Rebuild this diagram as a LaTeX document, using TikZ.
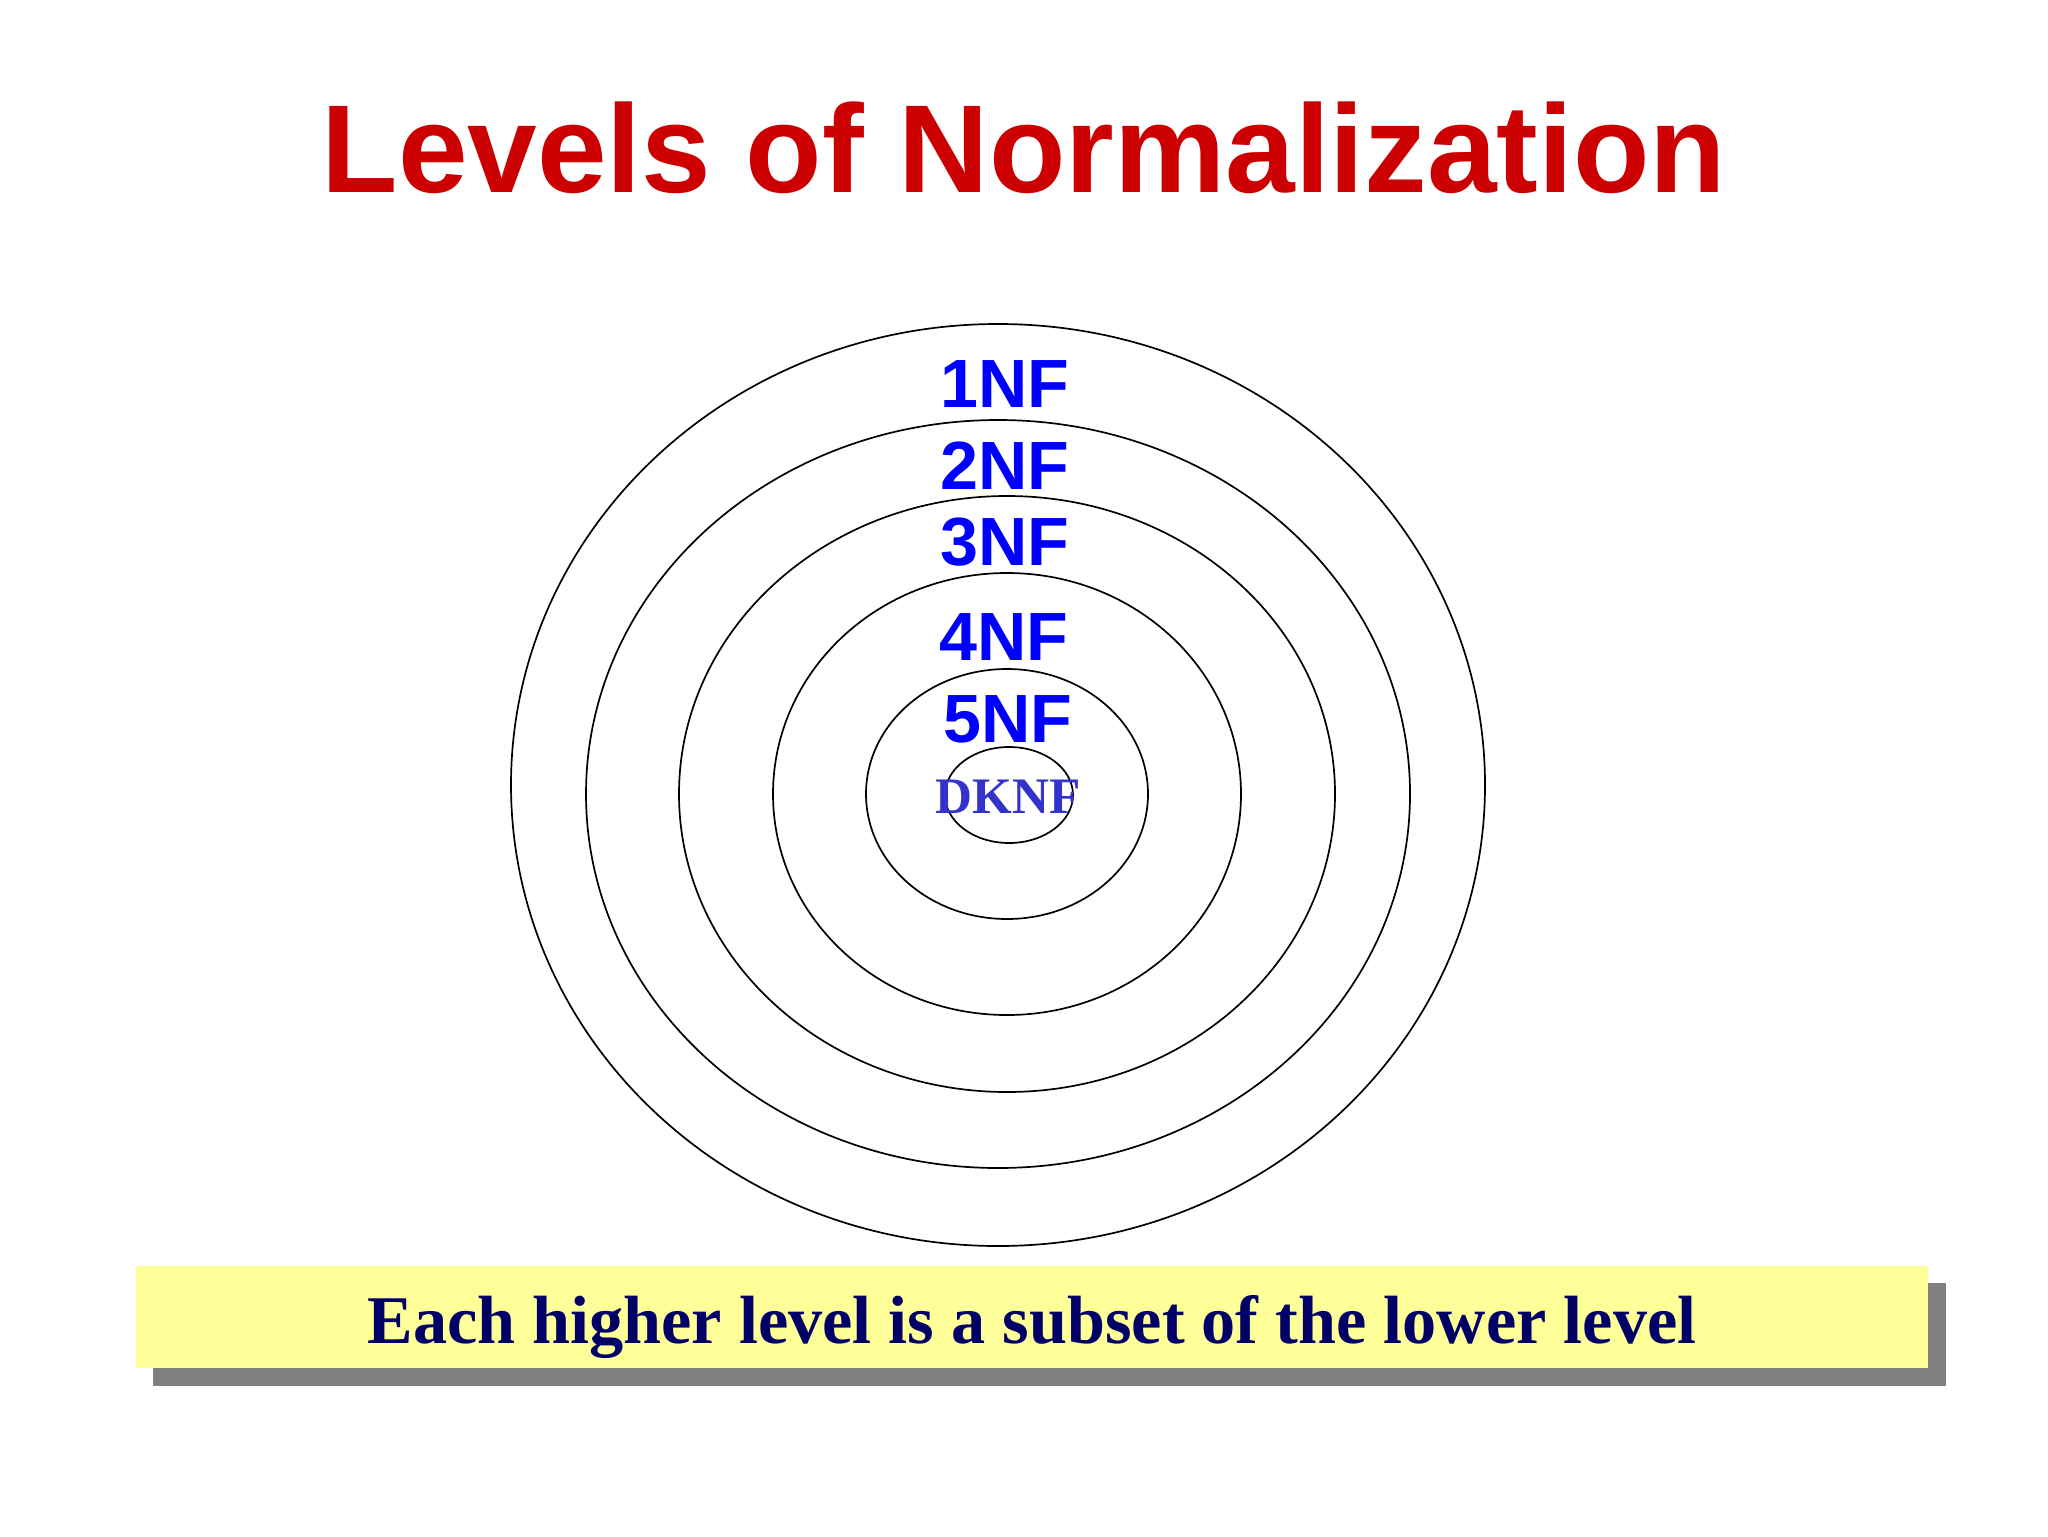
\documentclass[tikz,border=0pt]{standalone}
\usepackage{fontspec}
\setmainfont{Liberation Sans}
\newfontfamily\timesbold{Liberation Serif}
\definecolor{titlered}{RGB}{204,0,0}
\definecolor{nfblue}{RGB}{0,0,255}
\definecolor{dknfblue}{RGB}{51,51,204}
\definecolor{notenavy}{RGB}{0,0,102}
\definecolor{noteyellow}{RGB}{255,255,153}
\definecolor{shadowgray}{RGB}{128,128,128}
\tikzset{
  ring/.style={draw=black, line width=0.6pt},
  nf/.style={text=nfblue, anchor=base, inner sep=0pt,
    font=\bfseries\fontsize{24bp}{28bp}\selectfont},
}
\begin{document}
\begin{tikzpicture}[x=0.0124023cm, y=-0.0124023cm]
      \useasboundingbox (0,0) rectangle (2048,1536);
      \node[anchor=base, inner sep=0pt, text=titlered,
        font=\bfseries\fontsize{44bp}{52bp}\selectfont] (title) at (1024,192) {Levels of Normalization};
      % rings, outermost first
      \draw[ring] (998,785) ellipse [x radius=487, y radius=461];
      \draw[ring] (998,794) ellipse [x radius=412, y radius=374];
      \draw[ring] (1007,794) ellipse [x radius=328, y radius=298];
      \draw[ring] (1007,794) ellipse [x radius=234, y radius=221];
      \draw[ring] (1007,794) ellipse [x radius=141, y radius=125];
      \draw[ring] (1009,795) ellipse [x radius=64, y radius=48];
      \draw
        (1005,407) node[nf] (nf1) {1NF}
        (1005,489) node[nf] (nf2) {2NF}
        (1005,565) node[nf] (nf3) {3NF}
        (1004,660) node[nf] (nf4) {4NF}
        (1008,742) node[nf] (nf5) {5NF}
        (1008,813) node[nf, text=dknfblue,
          font=\timesbold\bfseries\fontsize{18bp}{22bp}\selectfont] (dknf) {DKNF};
      % note bar
      \begin{scope}
        \fill[shadowgray] (153,1283) rectangle (1946,1386);
        \fill[noteyellow] (136,1266) rectangle (1928,1368);
      \end{scope}
      \node[anchor=base, inner sep=0pt, text=notenavy,
        font=\timesbold\bfseries\fontsize{24bp}{28bp}\selectfont] (note) at (1032,1343)
        {Each higher level is a subset of the lower level};
    \end{tikzpicture}
\end{document}
